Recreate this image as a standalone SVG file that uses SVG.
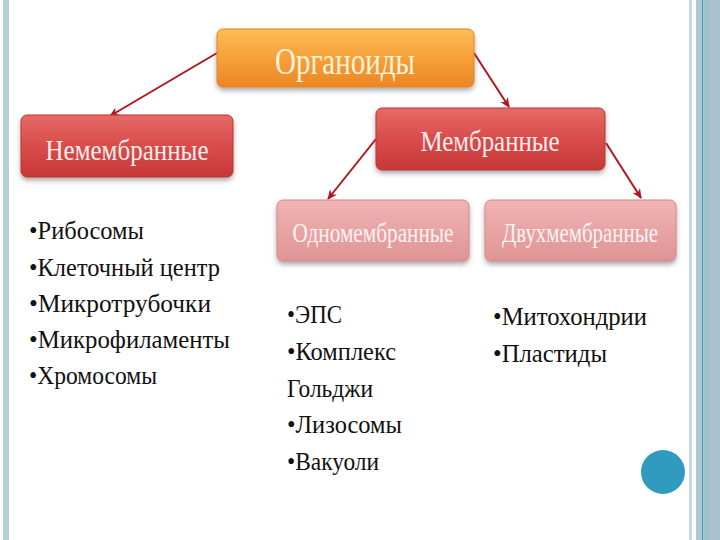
<svg xmlns="http://www.w3.org/2000/svg" width="720" height="540" viewBox="0 0 720 540">
<defs>
<style>
.bt{font-family:"Liberation Serif","Times New Roman",serif;text-anchor:middle}
.li{font-family:"Liberation Serif","Times New Roman",serif;font-size:25px;fill:#111}
.conn{stroke:#b0161c;stroke-width:2;fill:none;marker-end:url(#ah)}
</style>
<linearGradient id="gO" x1="0" y1="0" x2="0" y2="1"><stop offset="0" stop-color="#fcbd55"/><stop offset="0.5" stop-color="#f6a03a"/><stop offset="1" stop-color="#ec8524"/></linearGradient>
<linearGradient id="gR" x1="0" y1="0" x2="0" y2="1"><stop offset="0" stop-color="#e56a66"/><stop offset="0.5" stop-color="#d84c4a"/><stop offset="1" stop-color="#c63838"/></linearGradient>
<linearGradient id="gP" x1="0" y1="0" x2="0" y2="1"><stop offset="0" stop-color="#f0b4b4"/><stop offset="0.5" stop-color="#e8a4a4"/><stop offset="1" stop-color="#de9494"/></linearGradient>
<filter id="sh" x="-10%" y="-20%" width="120%" height="160%"><feDropShadow dx="0" dy="3" stdDeviation="2.5" flood-color="#555" flood-opacity="0.5"/></filter>
<marker id="ah" viewBox="0 0 10 10" refX="9" refY="5" markerWidth="10" markerHeight="10" orient="auto" markerUnits="userSpaceOnUse"><path d="M0,0.5 L10,5 L0,9.5 L3,5 z" fill="#b0161c"/></marker>
</defs>
<rect width="720" height="540" fill="#ffffff"/>
<rect x="3" y="0" width="6" height="540" fill="#b5d0d6"/>
<rect x="689" y="0" width="3" height="540" fill="#c2dde3"/>
<rect x="696" y="0" width="6" height="540" fill="#a8c8d2"/>
<rect x="702" y="0" width="1.5" height="540" fill="#5a9aa8"/>
<rect x="703.5" y="0" width="6.5" height="540" fill="#9cc4cf"/>
<rect x="710" y="0" width="10" height="540" fill="#a9c2cd"/>
<g id="connectors">
<line class="conn" x1="217" y1="53" x2="110" y2="116"/>
<line class="conn" x1="474" y1="53" x2="509" y2="107"/>
<line class="conn" x1="376" y1="139" x2="328" y2="199"/>
<line class="conn" x1="606" y1="143" x2="641" y2="198"/>
</g>
<g id="organoidy">
<rect x="217" y="29" width="257" height="58" rx="6" fill="url(#gO)" stroke="#e2861f" stroke-width="1" filter="url(#sh)"/>
<text class="bt" x="345" y="74" font-size="37" fill="#fff4d6" textLength="140" lengthAdjust="spacingAndGlyphs">Органоиды</text>
</g>
<g id="nemembrannye">
<rect x="21" y="115" width="212" height="62" rx="6" fill="url(#gR)" stroke="#bd3434" stroke-width="1" filter="url(#sh)"/>
<text class="bt" x="127" y="160" font-size="30" fill="#fbeeee" textLength="163" lengthAdjust="spacingAndGlyphs">Немембранные</text>
</g>
<g id="membrannye">
<rect x="376" y="108" width="229" height="62" rx="6" fill="url(#gR)" stroke="#bd3434" stroke-width="1" filter="url(#sh)"/>
<text class="bt" x="490" y="151" font-size="30" fill="#fbeeee" textLength="139" lengthAdjust="spacingAndGlyphs">Мембранные</text>
</g>
<g id="odnomembrannye">
<rect x="277" y="200" width="192" height="61" rx="6" fill="url(#gP)" stroke="#d48a8a" stroke-width="1" filter="url(#sh)"/>
<text class="bt" x="373" y="242" font-size="27" fill="#fdf3f3" textLength="161" lengthAdjust="spacingAndGlyphs">Одномембранные</text>
</g>
<g id="dvuhmembrannye">
<rect x="485" y="200" width="191" height="61" rx="6" fill="url(#gP)" stroke="#d48a8a" stroke-width="1" filter="url(#sh)"/>
<text class="bt" x="580" y="242" font-size="27" fill="#fdf3f3" textLength="156" lengthAdjust="spacingAndGlyphs">Двухмембранные</text>
</g>
<g id="list-nemembr">
<text class="li" x="29" y="239" textLength="115" lengthAdjust="spacingAndGlyphs">•Рибосомы</text>
<text class="li" x="29" y="276" textLength="191" lengthAdjust="spacingAndGlyphs">•Клеточный центр</text>
<text class="li" x="29" y="312" textLength="182" lengthAdjust="spacingAndGlyphs">•Микротрубочки</text>
<text class="li" x="29" y="348" textLength="201" lengthAdjust="spacingAndGlyphs">•Микрофиламенты</text>
<text class="li" x="29" y="384" textLength="128" lengthAdjust="spacingAndGlyphs">•Хромосомы</text>
</g>
<g id="list-odno">
<text class="li" x="287" y="323" textLength="55" lengthAdjust="spacingAndGlyphs">•ЭПС</text>
<text class="li" x="287" y="360" textLength="109" lengthAdjust="spacingAndGlyphs">•Комплекс</text>
<text class="li" x="287" y="397" textLength="86" lengthAdjust="spacingAndGlyphs">Гольджи</text>
<text class="li" x="287" y="433" textLength="115" lengthAdjust="spacingAndGlyphs">•Лизосомы</text>
<text class="li" x="287" y="470" textLength="92" lengthAdjust="spacingAndGlyphs">•Вакуоли</text>
</g>
<g id="list-dvuh">
<text class="li" x="493" y="325" textLength="154" lengthAdjust="spacingAndGlyphs">•Митохондрии</text>
<text class="li" x="493" y="362" textLength="114" lengthAdjust="spacingAndGlyphs">•Пластиды</text>
</g>
<circle cx="663" cy="472" r="22" fill="#2f9cbf"/>
</svg>
